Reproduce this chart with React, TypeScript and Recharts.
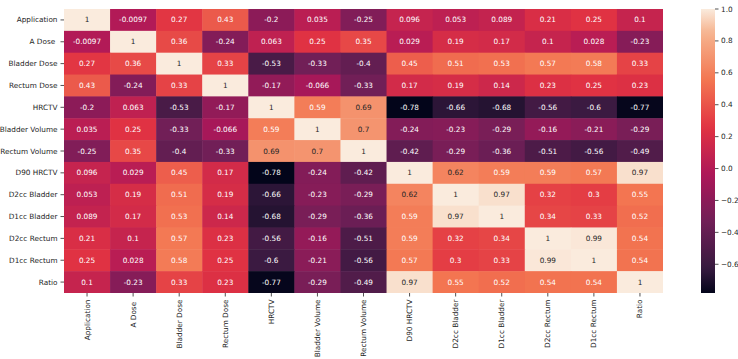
import { ScatterChart, Scatter, XAxis, YAxis } from 'recharts'

// 변수 이름 (축 라벨)
const labels = [
  'Application',
  'A Dose ',
  'Bladder Dose',
  'Rectum Dose',
  'HRCTV',
  'Bladder Volume',
  'Rectum Volume',
  'D90 HRCTV',
  'D2cc Bladder',
  'D1cc Bladder',
  'D2cc Rectum',
  'D1cc Rectum',
  'Ratio',
]

// 상관계수 행렬 (행 단위)
const rowApplication = [1, -0.0097, 0.27, 0.43, -0.2, 0.035, -0.25, 0.096, 0.053, 0.089, 0.21, 0.25, 0.1]
const rowADose = [-0.0097, 1, 0.36, -0.24, 0.063, 0.25, 0.35, 0.029, 0.19, 0.17, 0.1, 0.028, -0.23]
const rowBladderDose = [0.27, 0.36, 1, 0.33, -0.53, -0.33, -0.4, 0.45, 0.51, 0.53, 0.57, 0.58, 0.33]
const rowRectumDose = [0.43, -0.24, 0.33, 1, -0.17, -0.066, -0.33, 0.17, 0.19, 0.14, 0.23, 0.25, 0.23]
const rowHRCTV = [-0.2, 0.063, -0.53, -0.17, 1, 0.59, 0.69, -0.78, -0.66, -0.68, -0.56, -0.6, -0.77]
const rowBladderVolume = [0.035, 0.25, -0.33, -0.066, 0.59, 1, 0.7, -0.24, -0.23, -0.29, -0.16, -0.21, -0.29]
const rowRectumVolume = [-0.25, 0.35, -0.4, -0.33, 0.69, 0.7, 1, -0.42, -0.29, -0.36, -0.51, -0.56, -0.49]
const rowD90HRCTV = [0.096, 0.029, 0.45, 0.17, -0.78, -0.24, -0.42, 1, 0.62, 0.59, 0.59, 0.57, 0.97]
const rowD2ccBladder = [0.053, 0.19, 0.51, 0.19, -0.66, -0.23, -0.29, 0.62, 1, 0.97, 0.32, 0.3, 0.55]
const rowD1ccBladder = [0.089, 0.17, 0.53, 0.14, -0.68, -0.29, -0.36, 0.59, 0.97, 1, 0.34, 0.33, 0.52]
const rowD2ccRectum = [0.21, 0.1, 0.57, 0.23, -0.56, -0.16, -0.51, 0.59, 0.32, 0.34, 1, 0.99, 0.54]
const rowD1ccRectum = [0.25, 0.028, 0.58, 0.25, -0.6, -0.21, -0.56, 0.57, 0.3, 0.33, 0.99, 1, 0.54]
const rowRatio = [0.1, -0.23, 0.33, 0.23, -0.77, -0.29, -0.49, 0.97, 0.55, 0.52, 0.54, 0.54, 1]

const matrix = [
  rowApplication,
  rowADose,
  rowBladderDose,
  rowRectumDose,
  rowHRCTV,
  rowBladderVolume,
  rowRectumVolume,
  rowD90HRCTV,
  rowD2ccBladder,
  rowD1ccBladder,
  rowD2ccRectum,
  rowD1ccRectum,
  rowRatio,
]

const colorbarTicks = [1.0, 0.8, 0.6, 0.4, 0.2, 0.0, -0.2, -0.4, -0.6]

// 레이아웃
const WIDTH = 738
const HEIGHT = 359
const Y_AXIS_W = 64
const X_AXIS_H = 66
const MARGIN = { top: 9, right: 75, bottom: 0, left: 0 }
const N = labels.length
const CELL_W = (WIDTH - Y_AXIS_W - MARGIN.right) / N
const CELL_H = (HEIGHT - MARGIN.top - X_AXIS_H) / N
const FONT = '"DejaVu Sans", sans-serif'
const TEXT_COLOR = '#262626'

const VMAX = 1
const VMIN = Math.min(...matrix.flat())

// seaborn rocket 근사
const ROCKET: [number, string][] = [
  [0, '#03051a'],
  [0.083, '#35193e'],
  [0.25, '#701f57'],
  [0.417, '#ad1759'],
  [0.583, '#e13342'],
  [0.75, '#f37651'],
  [0.917, '#f6b48f'],
  [1, '#faebdd'],
]

function hexToRgb(h: string) {
  return [1, 3, 5].map((i) => parseInt(h.slice(i, i + 2), 16))
}

function rocket(t: number): string {
  const x = Math.max(0, Math.min(1, t))
  for (let i = 1; i < ROCKET.length; i++) {
    const [t1, c1] = ROCKET[i]
    const [t0, c0] = ROCKET[i - 1]
    if (x <= t1) {
      const f = (x - t0) / (t1 - t0)
      const a = hexToRgb(c0)
      const b = hexToRgb(c1)
      const rgb = a.map((v, k) => Math.round(v + (b[k] - v) * f))
      return `rgb(${rgb.join(',')})`
    }
  }
  return ROCKET[ROCKET.length - 1][1]
}

const valueColor = (v: number) => rocket((v - VMIN) / (VMAX - VMIN))

function formatValue(v: number) {
  return Number(v.toPrecision(2)).toString()
}

const cells = matrix.flatMap((row, r) =>
  row.map((value, c) => ({ x: c + 0.5, y: r + 0.5, value }))
)

const tickPositions = labels.map((_, i) => i + 0.5)

function Cell(props: any) {
  const { cx, cy, payload } = props
  const v = payload.value
  return (
    <g>
      <rect
        x={cx - CELL_W / 2}
        y={cy - CELL_H / 2}
        width={CELL_W + 0.5}
        height={CELL_H + 0.5}
        fill={valueColor(v)}
      />
      <text
        x={cx}
        y={cy}
        textAnchor="middle"
        dominantBaseline="central"
        fontSize={7.3}
        fontFamily={FONT}
        fill={v >= 0.6 ? TEXT_COLOR : '#ffffff'}
      >
        {formatValue(v)}
      </text>
    </g>
  )
}

function YTick(props: any) {
  const { x, y, payload } = props
  return (
    <text
      x={x}
      y={y}
      textAnchor="end"
      dominantBaseline="central"
      fontSize={7.3}
      fontFamily={FONT}
      fill={TEXT_COLOR}
      style={{ whiteSpace: 'pre' }}
    >
      {labels[Math.floor(payload.value)]}
    </text>
  )
}

function XTick(props: any) {
  const { x, y, payload } = props
  return (
    <text
      x={x}
      y={y}
      transform={`rotate(-90, ${x}, ${y})`}
      textAnchor="end"
      dominantBaseline="central"
      fontSize={7.3}
      fontFamily={FONT}
      fill={TEXT_COLOR}
      style={{ whiteSpace: 'pre' }}
    >
      {labels[Math.floor(payload.value)]}
    </text>
  )
}

// 컬러바
function Colorbar() {
  const top = MARGIN.top
  const h = N * CELL_H
  const left = 701
  const w = 14
  const stops = Array.from({ length: 41 }, (_, i) => i / 40)
  const yOf = (v: number) => top + ((VMAX - v) / (VMAX - VMIN)) * h
  return (
    <svg
      width={WIDTH}
      height={HEIGHT}
      style={{ position: 'absolute', left: 0, top: 0, pointerEvents: 'none' }}
    >
      <defs>
        <linearGradient id="rocket" x1="0" y1="1" x2="0" y2="0">
          {stops.map((t) => (
            <stop key={t} offset={t} stopColor={rocket(t)} />
          ))}
        </linearGradient>
      </defs>
      <rect x={left} y={top} width={w} height={h} fill="url(#rocket)" />
      {colorbarTicks.map((v) => (
        <g key={v}>
          <line
            x1={left + w}
            x2={left + w + 3.5}
            y1={yOf(v)}
            y2={yOf(v)}
            stroke={TEXT_COLOR}
            strokeWidth={0.8}
          />
          <text
            x={left + w + 6}
            y={yOf(v)}
            dominantBaseline="central"
            fontSize={7.3}
            fontFamily={FONT}
            fill={TEXT_COLOR}
          >
            {v < 0 ? `\u2212${Math.abs(v).toFixed(1)}` : v.toFixed(1)}
          </text>
        </g>
      ))}
    </svg>
  )
}

export default function App() {
  return (
    <div
      style={{
        position: 'absolute',
        left: 0,
        top: 0,
        width: WIDTH,
        height: HEIGHT,
        background: '#fff',
      }}
    >
      <ScatterChart width={WIDTH} height={HEIGHT} margin={MARGIN}>
        <XAxis
          type="number"
          dataKey="x"
          domain={[0, N]}
          ticks={tickPositions}
          interval={0}
          axisLine={false}
          tickLine={{ stroke: TEXT_COLOR, strokeWidth: 0.8 }}
          tickSize={3.5}
          tickMargin={3}
          height={X_AXIS_H}
          tick={<XTick />}
          allowDataOverflow
        />
        <YAxis
          type="number"
          dataKey="y"
          domain={[0, N]}
          reversed
          ticks={tickPositions}
          interval={0}
          axisLine={false}
          tickLine={{ stroke: TEXT_COLOR, strokeWidth: 0.8 }}
          tickSize={3.5}
          tickMargin={3}
          width={Y_AXIS_W}
          tick={<YTick />}
          allowDataOverflow
        />
        <Scatter data={cells} shape={<Cell />} isAnimationActive={false} />
      </ScatterChart>
      <Colorbar />
    </div>
  )
}
